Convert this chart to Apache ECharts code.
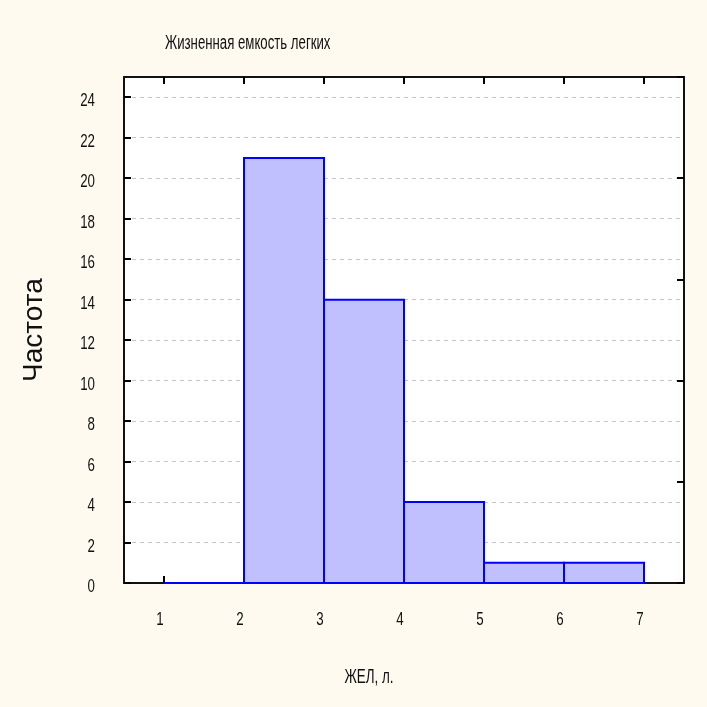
<!DOCTYPE html>
<html>
<head>
<meta charset="utf-8">
<script src="https://cdn.jsdelivr.net/npm/echarts@6/dist/echarts.min.js"></script>
<style>
html,body{margin:0;padding:0;background:#FEFAEF;}
#c{width:707px;height:707px;}
</style>
</head>
<body>
<div id="c"></div>
<script>
const titleText = 'Жизненная емкость легких';
const xName = 'ЖЕЛ, л.';
const yName = 'Частота';
const binStarts = [1, 2, 3, 4, 5, 6];
const binEnds = [2, 3, 4, 5, 6, 7];
const counts = [0, 21, 14, 4, 1, 1];
const xTicks = [1, 2, 3, 4, 5, 6, 7];
const yTicks = [0, 2, 4, 6, 8, 10, 12, 14, 16, 18, 20, 22, 24];
const yRightTicks = [0, 5, 10, 15, 20, 25];

const sans = '"Liberation Sans", Arial, sans-serif';
const chart = echarts.init(document.getElementById('c'));
const data = counts.map((v, i) => [binStarts[i], binEnds[i], v]);
const tick = {show: true, inside: true, length: 7, lineStyle: {color: '#000', width: 2}};

chart.setOption({
  backgroundColor: '#FEFAEF',
  animation: false,
  graphic: [{
    type: 'text', x: 165, y: 43, scaleX: 0.66,
    style: {text: titleText, font: '20px ' + sans, fill: '#111', textAlign: 'left', textVerticalAlign: 'middle'}
  }, {
    type: 'text', x: 369, y: 677, scaleX: 0.67,
    style: {text: xName, font: '20px ' + sans, fill: '#111', textAlign: 'center', textVerticalAlign: 'middle'}
  }],
  grid: {left: 124, right: 23, top: 77, bottom: 124, show: true, backgroundColor: '#FFFFFF', borderWidth: 0},
  xAxis: [{
    type: 'value', min: 0.5, max: 7.5, position: 'bottom',
    axisLine: {show: true, onZero: false, lineStyle: {color: '#111', width: 2}},
    axisTick: Object.assign({customValues: xTicks}, tick),
    axisLabel: {show: false, customValues: xTicks},
    splitLine: {show: false}
  }, {
    type: 'value', min: 0.5, max: 7.5, position: 'top',
    axisLine: {show: true, onZero: false, lineStyle: {color: '#111', width: 2}},
    axisTick: Object.assign({customValues: xTicks}, tick),
    axisLabel: {show: false, customValues: xTicks},
    splitLine: {show: false}
  }],
  yAxis: [{
    type: 'value', min: 0, max: 25, position: 'left',
    name: yName, nameLocation: 'middle', nameGap: 76, nameRotate: 90,
    nameTextStyle: {fontFamily: sans, fontSize: 28, color: '#111'},
    axisLine: {show: true, onZero: false, lineStyle: {color: '#111', width: 2}},
    axisTick: Object.assign({customValues: yTicks}, tick),
    axisLabel: {show: false, customValues: yTicks},
    splitLine: {show: true, lineStyle: {color: '#C4C4C4', type: [4, 4], width: 1}}
  }, {
    type: 'value', min: 0, max: 25, position: 'right',
    axisLine: {show: true, onZero: false, lineStyle: {color: '#111', width: 2}},
    axisTick: Object.assign({customValues: yRightTicks}, tick),
    axisLabel: {show: false, customValues: yRightTicks},
    splitLine: {show: false}
  }],
  series: [{
    type: 'custom',
    xAxisIndex: 0, yAxisIndex: 0,
    data: data,
    renderItem: function (params, api) {
      const p0 = api.coord([api.value(0), 0]);
      const p1 = api.coord([api.value(1), api.value(2)]);
      return {
        type: 'rect',
        shape: {x: p0[0], y: p1[1], width: p1[0] - p0[0], height: p0[1] - p1[1]},
        style: {fill: '#C0C0FF', stroke: '#0000FF', lineWidth: 2}
      };
    }
  }]
});

// condensed tick labels placed through the axes' own scales
const y0 = chart.convertToPixel({yAxisIndex: 0}, 0);
const labelGraphics = [];
xTicks.forEach(v => {
  const px = chart.convertToPixel({xAxisIndex: 0}, v);
  labelGraphics.push({
    type: 'text', x: px - 4, y: y0 + 37, scaleX: 0.7, silent: true,
    style: {text: String(v), font: '19px ' + sans, fill: '#111', textAlign: 'center', textVerticalAlign: 'middle'}
  });
});
const xLeft = chart.convertToPixel({xAxisIndex: 0}, 0.5);
yTicks.forEach(v => {
  const py = chart.convertToPixel({yAxisIndex: 0}, v);
  labelGraphics.push({
    type: 'text', x: xLeft - 29, y: py + 4, scaleX: 0.7, silent: true,
    style: {text: String(v), font: '19px ' + sans, fill: '#111', textAlign: 'right', textVerticalAlign: 'middle'}
  });
});
const opt = chart.getOption();
chart.setOption({graphic: opt.graphic[0].elements.concat(labelGraphics)}, {replaceMerge: ['graphic']});
</script>
</body>
</html>
